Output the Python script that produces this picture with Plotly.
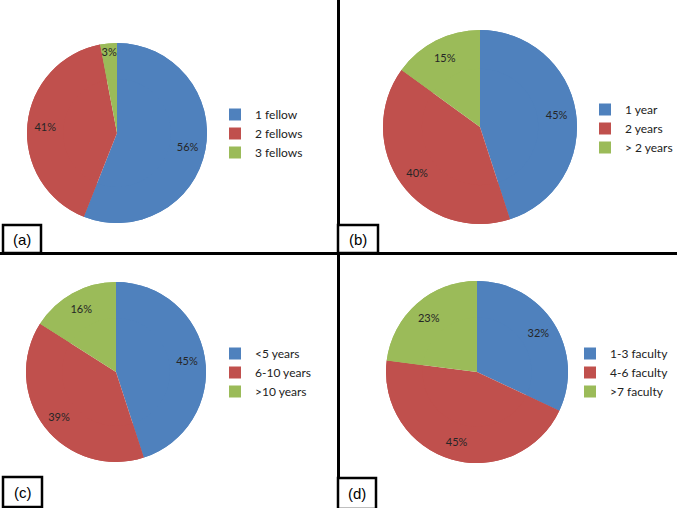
import plotly.graph_objects as go

W, H = 677, 508

# ---- data ----
labels_a = ["1 fellow", "2 fellows", "3 fellows"]
values_a = [56, 41, 3]
labels_b = ["1 year", "2 years", "> 2 years"]
values_b = [45, 40, 15]
labels_c = ["<5 years", "6-10 years", ">10 years"]
values_c = [45, 39, 16]
labels_d = ["1-3 faculty", "4-6 faculty", ">7 faculty"]
values_d = [32, 45, 23]
panel_tags = ["(a)", "(b)", "(c)", "(d)"]

colors = ["#4F81BD", "#C0504D", "#9BBB59"]

# ---- layout helpers (pixel boxes -> paper) ----
def px(x):
    return x / W

def py(y):
    return 1 - y / H

# pie pixel boxes: (x0, y0, x1, y1)
pie_boxes = [(27, 43, 207, 223), (383, 30, 577, 224), (26, 282, 206, 462), (386, 281, 568, 463)]
# legend anchors (left x, top y) in pixels
legend_pos = [(215, 100), (585, 95), (215, 339), (570, 339)]
# tag boxes (x0, y0, x1, y1)
tag_boxes = [(3, 225, 41, 253), (338, 225, 378, 253), (3, 477, 42, 507), (338, 478, 376, 509)]

series = [(labels_a, values_a), (labels_b, values_b), (labels_c, values_c), (labels_d, values_d)]
legend_names = ["legend", "legend2", "legend3", "legend4"]

fig = go.Figure()
for i, (labs, vals) in enumerate(series):
    x0, y0, x1, y1 = pie_boxes[i]
    dom = dict(x=[px(x0), px(x1)], y=[py(y1), py(y0)])
    # full pie underneath (no text)
    fig.add_trace(go.Pie(
        labels=labs, values=vals, sort=False, direction="clockwise", rotation=0,
        marker=dict(colors=colors, line=dict(width=0)),
        textinfo="none", domain=dom, legend=legend_names[i], showlegend=False,
        hoverinfo="skip",
    ))
    # ring on top carrying the percentage labels further out
    fig.add_trace(go.Pie(
        labels=labs, values=vals, sort=False, direction="clockwise", rotation=0, hole=0.6,
        marker=dict(colors=colors, line=dict(width=0)),
        textinfo="percent", textposition="inside", insidetextorientation="horizontal",
        textfont=dict(family="Lato", size=11, color="#262626"),
        domain=dom, legend=legend_names[i], hoverinfo="label+percent",
    ))

legend_common = dict(font=dict(family="Lato", size=12, color="#222"), bgcolor="rgba(0,0,0,0)",
                     borderwidth=0, xanchor="left", yanchor="top", tracegroupgap=0,
                     xref="container", yref="container")
lay = {}
for i, name in enumerate(legend_names):
    lx, ly = legend_pos[i]
    lay[name] = dict(x=px(lx), y=py(ly), **legend_common)

shapes = [
    dict(type="line", xref="paper", yref="paper", x0=px(338.5), x1=px(338.5), y0=0, y1=1,
         line=dict(color="black", width=3)),
    dict(type="line", xref="paper", yref="paper", x0=0, x1=1, y0=py(253.5), y1=py(253.5),
         line=dict(color="black", width=3)),
]
annotations = []
for i, (x0, y0, x1, y1) in enumerate(tag_boxes):
    shapes.append(dict(type="rect", xref="paper", yref="paper", x0=px(x0), x1=px(x1), y0=py(y1), y1=py(y0),
                       line=dict(color="black", width=2.5), fillcolor="white"))
    annotations.append(dict(text=panel_tags[i], xref="paper", yref="paper",
                            x=px((x0 + x1) / 2), y=py((y0 + y1) / 2), showarrow=False,
                            font=dict(family="Liberation Sans", size=15, color="black"),
                            xanchor="center", yanchor="middle"))

fig.update_layout(
    width=W, height=H, margin=dict(l=0, r=0, t=0, b=0, autoexpand=False),
    paper_bgcolor="white", plot_bgcolor="white",
    showlegend=True, shapes=shapes, annotations=annotations,
    uniformtext=dict(minsize=11, mode="show"),
    **lay,
)

fig.write_html("out.html", config={"displayModeBar": False},
               post_script="document.body.style.margin='0';document.body.style.overflow='hidden';")
